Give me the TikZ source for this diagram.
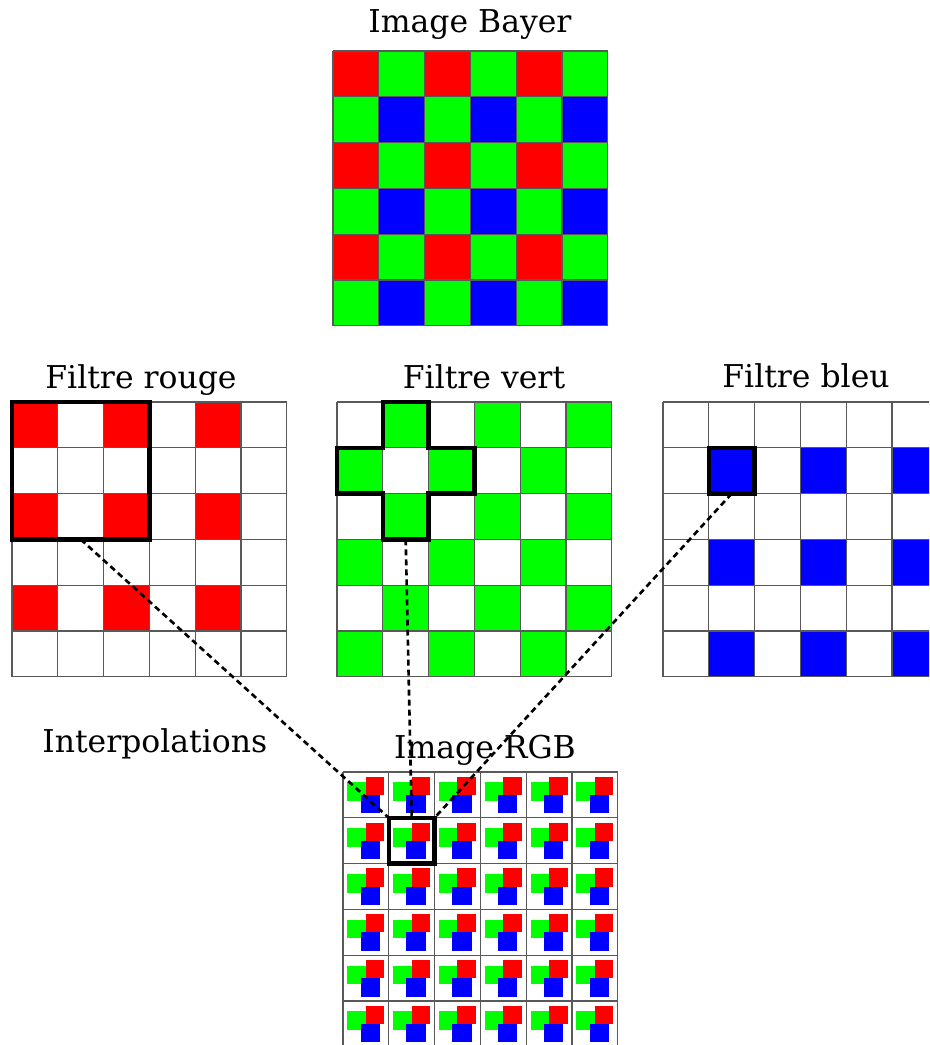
\documentclass[tikz,border=0pt]{standalone}
\usepackage{fontspec}
\setmainfont{DejaVu Serif}
\definecolor{bayerred}{RGB}{255,0,0}
\definecolor{bayergreen}{RGB}{0,255,0}
\definecolor{bayerblue}{RGB}{0,0,255}

\begin{document}
\begin{tikzpicture}[
  title/.style={font=\fontsize{17.9pt}{21pt}\selectfont, inner sep=0pt, anchor=base},
  cellline/.style={draw=black!65, line width=0.6pt},
  selbox/.style={draw=black, rectangle, line width=2.6pt,
    inner sep=0pt, outer sep=0pt},
  selline/.style={draw=black, line width=2.6pt},
  link/.style={draw=black, line width=1.5pt, dash pattern=on 3.4pt off 2.3pt}
]
\useasboundingbox (0,0) rectangle (18.58,-20.9);
\clip (0,0) rectangle (18.58,-20.9);

% Bayer mosaic
\node[title] (bayertitle) at (9.40,-0.66) {Image Bayer};
\begin{scope}[shift={(6.66,-1.02)}, x=0.916cm, y=-0.916cm]
  \foreach \r in {0,2,4}
    \foreach \c in {0,2,4} {
      \fill[bayerred] (\c,\r) rectangle ++(1,1);
      \fill[bayergreen] (\c+1,\r) rectangle ++(1,1);
      \fill[bayergreen] (\c,\r+1) rectangle ++(1,1);
      \fill[bayerblue] (\c+1,\r+1) rectangle ++(1,1);
    }
  \foreach \i in {0,...,6} {
    \draw[cellline] (\i,0) -- (\i,6);
    \draw[cellline] (0,\i) -- (6,\i);
  }
\end{scope}

% Red channel
\node[title] (redtitle) at (2.82,-7.76) {Filtre rouge};
\begin{scope}[shift={(0.24,-8.04)}, x=0.916cm, y=-0.916cm]
  \foreach \r in {0,2,4}
    \foreach \c in {0,2,4}
      \fill[bayerred] (\c,\r) rectangle ++(1,1);
  \foreach \i in {0,...,6} {
    \draw[cellline] (\i,0) -- (\i,6);
    \draw[cellline] (0,\i) -- (6,\i);
  }
  \node[selbox, minimum width=2.748cm, minimum height=2.748cm] (redsel) at (1.5,1.5) {};
\end{scope}

% Green channel
\node[title] (greentitle) at (9.68,-7.76) {Filtre vert};
\begin{scope}[shift={(6.74,-8.04)}, x=0.916cm, y=-0.916cm]
  \foreach \r in {0,2,4}
    \foreach \c in {0,2,4} {
      \fill[bayergreen] (\c+1,\r) rectangle ++(1,1);
      \fill[bayergreen] (\c,\r+1) rectangle ++(1,1);
    }
  \foreach \i in {0,...,6} {
    \draw[cellline] (\i,0) -- (\i,6);
    \draw[cellline] (0,\i) -- (6,\i);
  }
  \draw[selline] (1,0) -- (2,0) -- (2,1) -- (3,1) -- (3,2) -- (2,2) -- (2,3)
    -- (1,3) -- (1,2) -- (0,2) -- (0,1) -- (1,1) -- cycle;
  \coordinate (greensel) at (1.5,3);
\end{scope}

% Blue channel
\node[title] (bluetitle) at (16.12,-7.74) {Filtre bleu};
\begin{scope}[shift={(13.26,-8.04)}, x=0.916cm, y=-0.916cm]
  \foreach \r in {0,2,4}
    \foreach \c in {0,2,4}
      \fill[bayerblue] (\c+1,\r+1) rectangle ++(1,1);
  \foreach \i in {0,...,6} {
    \draw[cellline] (\i,0) -- (\i,6);
    \draw[cellline] (0,\i) -- (6,\i);
  }
  \node[selbox, minimum width=0.916cm, minimum height=0.916cm] (bluesel) at (1.5,1.5) {};
\end{scope}

% Reconstructed image
\node[title, anchor=base west] (interp) at (0.84,-15.04) {Interpolations};
\node[title] (rgbtitle) at (9.70,-15.16) {Image RGB};
\begin{scope}[shift={(6.86,-15.44)}, x=0.916cm, y=-0.916cm]
  \foreach \r in {0,...,5}
    \foreach \c in {0,...,5} {
      \fill[bayergreen] (\c+0.094,\r+0.225) rectangle (\c+0.496,\r+0.633);
      \fill[bayerred] (\c+0.496,\r+0.103) rectangle (\c+0.902,\r+0.502);
      \fill[bayerblue] (\c+0.386,\r+0.502) rectangle (\c+0.808,\r+0.902);
    }
  \foreach \i in {0,...,6} {
    \draw[cellline] (\i,0) -- (\i,6);
    \draw[cellline] (0,\i) -- (6,\i);
  }
  \node[selbox, minimum width=0.916cm, minimum height=0.916cm] (rgbsel) at (1.5,1.5) {};
\end{scope}

% Dotted links to the interpolated pixel
\draw[link] (redsel.south) -- (rgbsel.north west);
\draw[link] (greensel) -- (rgbsel.north);
\draw[link] (bluesel.south) -- (rgbsel.north east);

\end{tikzpicture}
\end{document}
